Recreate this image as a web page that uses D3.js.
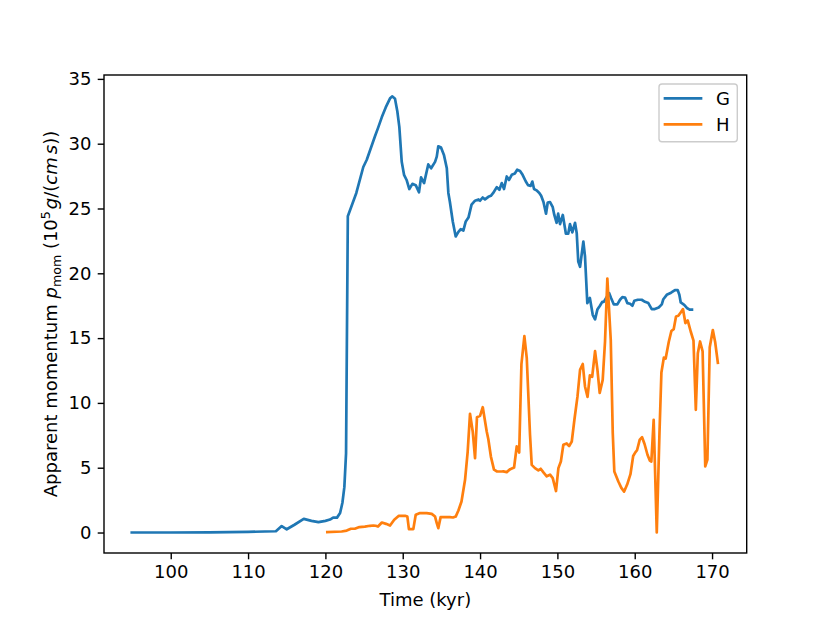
<!DOCTYPE html>
<html>
<head>
<meta charset="utf-8">
<script src="https://cdn.jsdelivr.net/npm/d3@7"></script>
<style>
  body { margin: 0; background: #fff; }
  svg { display: block; font-family: "DejaVu Sans", sans-serif; }
</style>
</head>
<body>
<svg id="chart" width="830" height="623"></svg>
<script>
// ---- data ----
const seriesNames = ["G", "H"];
const seriesColors = ["#1f77b4", "#ff7f0e"];

const timeG = [94.96, 100, 105, 110, 113.6, 114.35, 115.0, 116.0, 117.2, 118.2, 119.1, 120.0, 120.6, 121.0, 121.5, 121.9, 122.2, 122.45, 122.67, 122.9,
  124.0, 124.9, 125.35, 126.4, 126.8, 127.3, 127.8, 128.36, 128.66, 129.0, 129.3, 129.56, 129.87, 130.17, 130.5, 130.85, 131.25, 131.68, 132.1, 132.37,
  132.76, 133.3, 133.67, 134.18, 134.4, 134.6, 134.95, 135.34, 135.7, 135.9, 136.1, 136.47, 136.85, 137.2, 137.5, 137.84, 138.15, 138.5, 138.9, 139.35,
  139.8, 140.0, 140.34, 140.64, 141.07, 141.4, 141.7, 142.16, 142.5, 142.8, 143.1, 143.45, 143.75, 144.1, 144.5, 144.8, 145.17, 145.5, 145.9, 146.2,
  146.55, 146.76, 146.98, 147.3, 147.66, 147.9, 148.2, 148.53, 148.75, 149.05, 149.4, 149.6, 149.9, 150.1, 150.34, 150.7, 151.1, 151.4, 151.63, 151.93,
  152.28, 152.5, 152.7, 152.93, 153.36, 153.57, 153.87, 154.2, 154.57, 154.87, 155.17, 155.5, 155.8, 156.0, 156.4, 156.7, 156.94, 157.3, 157.75, 158.1,
  158.4, 158.75, 159.05, 159.4, 159.7, 159.95, 160.4, 160.9, 161.33, 161.76, 162.2, 162.6, 163.1, 163.5, 163.7, 164.14, 164.7, 165.2, 165.56, 165.77,
  165.95, 166.4, 166.8, 167.1, 167.4];
const valueG = [0, 0.0, 0.01, 0.05, 0.1, 0.5, 0.25, 0.6, 1.05, 0.9, 0.8, 0.9, 1.0, 1.15, 1.15, 1.5, 2.3, 3.5, 6.1, 24.4,
  26.2, 28.2, 28.76, 30.55, 31.2, 32.05, 32.8, 33.5, 33.65, 33.46, 32.5, 31.3, 28.6, 27.6, 27.2, 26.5, 26.9, 26.8, 26.25, 27.4,
  26.96, 28.4, 28.1, 28.6, 29.0, 29.8, 29.7, 29.1, 28.1, 26.2, 25.5, 24.0, 22.84, 23.2, 23.4, 23.3, 24.0, 24.3, 25.3, 25.6,
  25.7, 25.6, 25.85, 25.7, 25.9, 25.98, 26.2, 26.65, 26.45, 26.96, 26.5, 27.47, 27.2, 27.6, 27.7, 28.0, 27.9, 27.6, 27.1, 26.8,
  26.75, 27.08, 26.5, 26.4, 26.2, 25.98, 25.5, 24.6, 25.46, 25.5, 25.1, 24.5, 23.9, 24.6, 23.8, 24.5, 23.05, 23.05, 23.8, 23.15,
  23.9, 23.1, 20.9, 20.5, 22.45, 21.3, 17.7, 18.1, 16.8, 16.45, 17.2, 17.5, 17.8, 17.8, 18.2, 18.47, 18.1, 17.6, 17.6, 17.96,
  18.16, 18.13, 17.7, 17.65, 17.5, 17.88, 17.96, 17.96, 17.8, 17.7, 17.24, 17.24, 17.36, 17.6, 18.0, 18.34, 18.5, 18.7, 18.7, 18.34,
  17.75, 17.57, 17.3, 17.2, 17.2];

const timeH = [120.25, 122.1, 122.76, 123.3, 123.8, 124.4, 125.1, 125.77, 126.2, 126.5, 126.8, 127.3, 127.84, 128.36, 128.9, 129.5, 130.3, 130.6, 130.8, 131.37,
  131.68, 132.24, 133.1, 133.75, 134.18, 134.4, 134.6, 134.9, 135.47, 136.1, 136.5, 136.85, 137.2, 137.6, 138.06, 138.4, 138.7, 139.05, 139.35, 139.6,
  140.0, 140.35, 140.86, 141.07, 141.4, 141.8, 142.2, 142.8, 143.0, 143.45, 143.9, 144.4, 144.74, 145.06, 145.35, 145.73, 146.04, 146.46, 146.68, 147.1,
  147.54, 147.84, 148.22, 148.62, 149.05, 149.4, 149.82, 150.13, 150.45, 150.77, 151.2, 151.52, 151.86, 152.2, 152.6, 152.93, 153.28, 153.57, 153.9, 154.2,
  154.5, 154.87, 155.17, 155.47, 155.86, 156.16, 156.46, 156.9, 157.16, 157.36, 157.88, 158.27, 158.63, 159.02, 159.45, 159.8, 160.1, 160.3, 160.65, 160.95,
  161.27, 161.65, 161.95, 162.15, 162.45, 162.85, 163.2, 163.45, 163.77, 164.0, 164.4, 164.74, 165.04, 165.34, 165.64, 165.97, 166.24, 166.55, 166.85, 167.24,
  167.6, 167.9, 168.16, 168.45, 168.78, 169.12, 169.4, 169.7, 170.1, 170.4, 170.75];
const valueH = [0.03, 0.08, 0.15, 0.29, 0.29, 0.42, 0.46, 0.52, 0.54, 0.52, 0.46, 0.77, 0.67, 0.54, 0.98, 1.29, 1.29, 1.23, 0.26, 0.26,
  1.37, 1.5, 1.5, 1.44, 1.23, 0.72, 0.34, 1.19, 1.19, 1.19, 1.16, 1.23, 1.7, 2.39, 4.07, 6.25, 9.16, 7.8, 5.74, 8.9,
  9.0, 9.67, 7.8, 7.2, 5.86, 4.85, 4.71, 4.71, 4.72, 4.66, 4.89, 5.02, 6.64, 6.17, 13.0, 15.15, 13.45, 7.54, 5.22, 4.97,
  4.8, 4.92, 4.62, 4.34, 4.46, 4.2, 3.2, 4.97, 5.48, 6.77, 6.87, 6.67, 7.02, 8.7, 10.5, 12.55, 13.0, 11.27, 10.47, 12.13,
  12.02, 14.0, 12.6, 10.77, 11.78, 14.75, 19.6, 14.87, 7.67, 4.71, 3.94, 3.44, 3.16, 3.7, 4.5, 5.9, 6.2, 6.35, 7.17, 7.35,
  6.83, 6.0, 5.55, 5.48, 8.7, 0.0, 7.67, 12.35, 13.5, 13.42, 14.7, 15.55, 15.69, 16.67, 16.72, 17.0, 17.24, 16.16, 16.36, 15.51,
  14.8, 9.47, 13.84, 14.74, 13.97, 5.1, 5.63, 14.3, 15.62, 14.7, 13.1];

const xTicks = [100, 110, 120, 130, 140, 150, 160, 170];
const yTicks = [0, 5, 10, 15, 20, 25, 30, 35];

// ---- layout ----
const svg = d3.select("#chart");
const L = 104, R = 746.7, T = 75, B = 553;
const x = d3.scaleLinear().domain([91.37, 174.48]).range([L, R]);
const y = d3.scaleLinear().domain([-1.58, 35.30]).range([B, T]);
const fs = 18;

const series = [
  { name: seriesNames[0], color: seriesColors[0], pts: timeG.map((t, i) => [t, valueG[i]]) },
  { name: seriesNames[1], color: seriesColors[1], pts: timeH.map((t, i) => [t, valueH[i]]) }
];

const line = d3.line().x(d => x(d[0])).y(d => y(d[1]));

svg.append("defs").append("clipPath").attr("id", "clip")
  .append("rect").attr("x", L).attr("y", T).attr("width", R - L).attr("height", B - T);

const g = svg.append("g").attr("clip-path", "url(#clip)");
series.forEach(s => {
  g.append("path").datum(s.pts)
    .attr("d", line)
    .attr("fill", "none")
    .attr("stroke", s.color)
    .attr("stroke-width", 2.7)
    .attr("stroke-linejoin", "round")
    .attr("stroke-linecap", "square");
});

// axes
const xAxis = d3.axisBottom(x).tickValues(xTicks).tickSize(6.3).tickPadding(6.3).tickFormat(d3.format("d"));
const yAxis = d3.axisLeft(y).tickValues(yTicks).tickSize(6.3).tickPadding(6.3).tickFormat(d3.format("d"));

const gx = svg.append("g").attr("transform", `translate(0,${B})`).call(xAxis);
const gy = svg.append("g").attr("transform", `translate(${L},0)`).call(yAxis);
[gx, gy].forEach(a => {
  a.select(".domain").remove();
  a.selectAll(".tick line").attr("stroke", "#000").attr("stroke-width", 1.4);
  a.selectAll(".tick text").attr("fill", "#000").style("font-size", fs + "px").style("font-family", "'DejaVu Sans'");
});

// frame
svg.append("rect").attr("x", L).attr("y", T).attr("width", R - L).attr("height", B - T)
  .attr("fill", "none").attr("stroke", "#000").attr("stroke-width", 1.4);

// axis labels
svg.append("text").attr("x", (L + R) / 2).attr("y", 606).attr("text-anchor", "middle")
  .style("font-size", fs + "px").text("Time (kyr)");

const yl = svg.append("text").attr("transform", `translate(57,${(T + B) / 2}) rotate(-90)`)
  .attr("text-anchor", "middle").style("font-size", fs + "px");
yl.append("tspan").text("Apparent momentum ");
yl.append("tspan").style("font-style", "italic").text("p");
yl.append("tspan").attr("dy", 4).style("font-size", "12.6px").text("mom");
yl.append("tspan").attr("dy", -4).text(" (10");
yl.append("tspan").attr("dy", -7).style("font-size", "12.6px").text("5");
yl.append("tspan").attr("dy", 7).attr("dx", 2).style("font-style", "italic").text("g");
yl.append("tspan").text("/(");
yl.append("tspan").style("font-style", "italic").text("cm");
yl.append("tspan").attr("dx", 3).style("font-style", "italic").text("s");
yl.append("tspan").text("))");

// legend
const lg = svg.append("g");
lg.append("rect").attr("x", 659).attr("y", 84).attr("width", 78.3).attr("height", 57.7)
  .attr("rx", 3).attr("fill", "#fff").attr("fill-opacity", 0.8).attr("stroke", "#ccc").attr("stroke-width", 1.4);
series.forEach((s, i) => {
  const yy = 98.3 + i * 26;
  lg.append("line").attr("x1", 665).attr("x2", 701).attr("y1", yy).attr("y2", yy)
    .attr("stroke", s.color).attr("stroke-width", 2.7).attr("stroke-linecap", "square");
  lg.append("text").attr("x", 716).attr("y", yy + 6.5).style("font-size", fs + "px").text(s.name);
});
</script>
</body>
</html>
